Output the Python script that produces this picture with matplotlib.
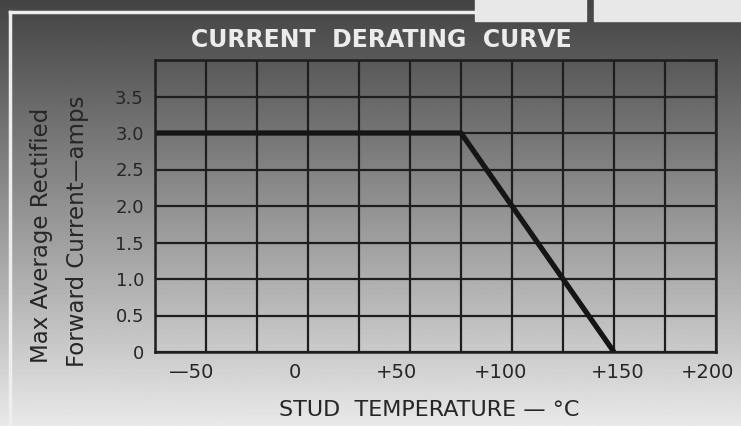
import numpy as np
import matplotlib
matplotlib.use("Agg")
import matplotlib.pyplot as plt
from matplotlib.lines import Line2D
from matplotlib.transforms import ScaledTranslation

# derating curve
temp_c = [-75, 75, 150]
current_a = [3.0, 3.0, 0.0]

x_ticks = [-50, 0, 50, 100, 150, 200]
x_tick_labels = ["\u201450", "0", "+50", "+100", "+150", "+200"]
y_ticks = [0, 0.5, 1.0, 1.5, 2.0, 2.5, 3.0, 3.5]
y_tick_labels = ["0", "0.5", "1.0", "1.5", "2.0", "2.5", "3.0", "3.5"]

plt.rcParams['font.family'] = ['DejaVu Sans']

fig = plt.figure(figsize=(7.41, 4.26), dpi=100)

# grey scan background, dark at the top and light at the bottom
bg = fig.add_axes([0, 0, 1, 1], zorder=-10)
grad = np.linspace(0.92, 0.3, 256).reshape(-1, 1) ** 1.1
bg.imshow(grad, aspect='auto', cmap='gray', vmin=0, vmax=1,
          extent=[0, 1, 0, 1], origin='lower')
bg.set_xlim(0, 1)
bg.set_ylim(0, 1)
bg.axis('off')

# page frame lines and paper corners from the scan
fig.add_artist(Line2D([0.014, 0.641], [0.972, 0.972], color='#eeeeee', lw=2.5))
fig.add_artist(Line2D([0.014, 0.014], [0.0, 0.972], color='#eeeeee', lw=2.5))
fig.patches.append(plt.Rectangle((0.641, 0.95), 0.15, 0.06, transform=fig.transFigure,
                                 color='#e8e8e8', zorder=-5))
fig.patches.append(plt.Rectangle((0.802, 0.95), 0.2, 0.06, transform=fig.transFigure,
                                 color='#e8e8e8', zorder=-5))

ax = fig.add_axes([155 / 741, 74 / 426, 561 / 741, 292 / 426])
ax.set_facecolor('none')
ax.set_xlim(-75, 200)
ax.set_ylim(0, 4.0)

ax.set_xticks(np.arange(-75, 201, 25), minor=True)
ax.set_yticks(np.arange(0, 4.01, 0.5), minor=True)
ax.grid(which='both', color='#1e1e1e', lw=1.6)
ax.set_axisbelow(True)

ax.plot(temp_c, current_a, color='#151515', lw=3.8, solid_capstyle='butt')

ax.set_xticks(x_ticks)
ax.set_xticklabels(x_tick_labels, fontsize=14, color='#262626')
ax.set_yticks(y_ticks)
ax.set_yticklabels(y_tick_labels, fontsize=13, color='#262626')
ax.tick_params(which='both', length=0, pad=8)
for s in ax.spines.values():
    s.set_color('#1e1e1e')
    s.set_linewidth(1.8)

# the printed labels sit a little left of their grid lines
shifts = [-15, -13, -14, -11, 4, -8]
for lab, dx in zip(ax.get_xticklabels(), shifts):
    lab.set_transform(lab.get_transform() + ScaledTranslation(dx / 100, 0, fig.dpi_scale_trans))

fig.text(381 / 741, 1 - 40 / 426, "CURRENT  DERATING  CURVE", color='#ececec',
         fontsize=17, fontweight='bold', ha='center', va='center')
fig.text(429 / 741, 1 - 410 / 426, "STUD  TEMPERATURE \u2014 \u00b0C", color='#262626',
         fontsize=16, ha='center', va='center')
fig.text(42 / 741, 1 - 235 / 426, "Max Average Rectified", color='#262626',
         fontsize=16.5, rotation=90, ha='center', va='center')
fig.text(78 / 741, 1 - 231 / 426, "Forward Current\u2014amps", color='#262626',
         fontsize=16.5, rotation=90, ha='center', va='center')

fig.savefig("out.png", dpi=100)
